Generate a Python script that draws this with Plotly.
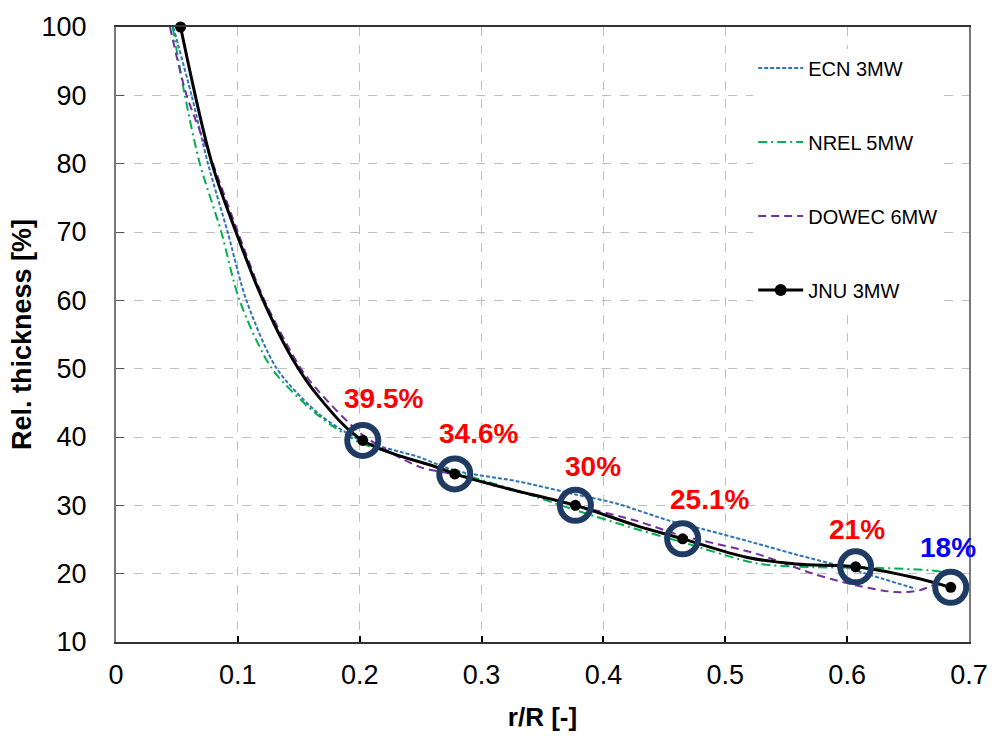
import plotly.graph_objects as go

# Relative thickness distributions along the blade span
ecn_r = [0.047, 0.062, 0.0755, 0.0916, 0.107, 0.132, 0.167, 0.200, 0.248, 0.278, 0.330,
         0.377, 0.410, 0.455, 0.482, 0.526, 0.560, 0.599, 0.630, 0.656]
ecn_t = [100, 90, 80, 70, 60, 50, 43.3, 39.6, 37.1, 35.1, 33.5,
         31.6, 30.3, 27.7, 26.5, 24.4, 22.7, 20.9, 19.2, 17.8]

nrel_r = [0.0465, 0.0565, 0.0688, 0.0864, 0.1014, 0.128, 0.167, 0.200, 0.221, 0.256,
          0.330, 0.377, 0.4276, 0.465, 0.526, 0.572, 0.613, 0.667, 0.689]
nrel_t = [100, 90, 80, 70, 60, 50, 43.0, 39.2, 37.9, 36.0,
          32.1, 29.3, 26.5, 24.6, 21.5, 20.95, 20.9, 20.5, 20.0]

dowec_r = [0.0443, 0.058, 0.0795, 0.100, 0.1218, 0.1517, 0.1667, 0.2025, 0.248,
           0.278, 0.330, 0.377, 0.4276, 0.465, 0.482, 0.526, 0.572, 0.607, 0.640, 0.659, 0.675]
dowec_t = [100, 90, 80, 70, 60, 50, 46.6, 40.3, 35.7,
           34.5, 32.0, 30.0, 27.7, 25.5, 24.8, 22.9, 20.0, 18.3, 17.3, 17.55, 18.7]

# JNU 3MW: continuous curve and its design stations
jnu_curve_r = [0.053, 0.0788, 0.0985, 0.1195, 0.1446, 0.1667, 0.2025, 0.2646,
               0.278, 0.319, 0.377, 0.4276, 0.465, 0.5173, 0.558, 0.607, 0.653, 0.685]
jnu_curve_t = [100, 80, 70, 60.5, 51.5, 45.8, 39.5, 35.5,
               34.6, 32.55, 30, 27.0, 25.1, 22.4, 21.4, 21, 19.5, 18]

jnu_r = [0.053, 0.2025, 0.278, 0.377, 0.465, 0.607, 0.685]
jnu_t = [100, 39.5, 34.6, 30, 25.1, 21, 18]

# Highlighted stations (all except the root) and their label colours
hl_r = jnu_r[1:]
hl_t = jnu_t[1:]
hl_colors = ["#FF0000", "#FF0000", "#FF0000", "#FF0000", "#FF0000", "#0000FF"]
hl_shift = [(21, 42), (24, 40), (18, 39), (27, 39), (1, 37), (-3, 40)]

FONT = "Liberation Sans, Arial, sans-serif"

fig = go.Figure()

fig.add_trace(go.Scatter(
    x=ecn_r, y=ecn_t, mode="lines", name="ECN 3MW", legendgroup="ecn",
    line=dict(color="#2E75B6", width=2, dash="4px,2px", shape="spline", smoothing=0.8),
))
fig.add_trace(go.Scatter(
    x=nrel_r, y=nrel_t, mode="lines", name="NREL 5MW", legendgroup="nrel",
    line=dict(color="#00B050", width=2, dash="9px,4px,2px,4px", shape="spline", smoothing=0.8),
))
fig.add_trace(go.Scatter(
    x=dowec_r, y=dowec_t, mode="lines", name="DOWEC 6MW", legendgroup="dowec",
    line=dict(color="#7030A0", width=2, dash="8px,5px", shape="spline", smoothing=0.8),
))
fig.add_trace(go.Scatter(
    x=jnu_curve_r, y=jnu_curve_t, mode="lines", name="JNU 3MW", legendgroup="jnu",
    showlegend=False,
    line=dict(color="black", width=3, shape="spline", smoothing=1.0),
))
# rings around the highlighted stations
fig.add_trace(go.Scatter(
    x=hl_r, y=hl_t, mode="markers", showlegend=False, hoverinfo="skip", cliponaxis=False,
    marker=dict(symbol="circle-open", size=31, color="#1F3B63", line=dict(color="#1F3B63", width=6)),
))
fig.add_trace(go.Scatter(
    x=jnu_r, y=jnu_t, mode="markers", name="JNU 3MW", legendgroup="jnu",
    showlegend=False, cliponaxis=False,
    marker=dict(color="black", size=11),
))
# legend entry for the JNU series (line with marker)
fig.add_trace(go.Scatter(
    x=[None], y=[None], mode="lines+markers", name="JNU 3MW", legendgroup="jnu",
    line=dict(color="black", width=3), marker=dict(color="black", size=12),
))

for r, t, c, (dx, dy) in zip(hl_r, hl_t, hl_colors, hl_shift):
    fig.add_annotation(
        x=r, y=t, text=f"{t:g}%", showarrow=False, xshift=dx, yshift=dy,
        font=dict(family=FONT, size=28, color=c, weight="bold"),
    )

fig.update_layout(
    width=1000, height=742,
    margin=dict(l=116, r=26, t=22, b=100),
    paper_bgcolor="white", plot_bgcolor="white",
    font=dict(family=FONT, color="black"),
    legend=dict(
        x=0.747, y=0.965, xanchor="left", yanchor="top",
        bgcolor="white", borderwidth=0,
        font=dict(family=FONT, size=20, color="black"),
        traceorder="grouped", tracegroupgap=45, itemwidth=45,
    ),
    xaxis=dict(
        range=[0, 0.7], dtick=0.1, tick0=0,
        showline=True, linecolor="#333333", linewidth=2, mirror=True,
        ticks="inside", ticklen=6, tickcolor="black", tickwidth=2,
        showgrid=True, gridcolor="#C0C0C0", griddash="dash", gridwidth=1,
        zeroline=False,
        tickfont=dict(family=FONT, size=27, color="black"),
        ticklabelstandoff=8,
        title=dict(text="<b>r/R [-]</b>", font=dict(family=FONT, size=26, color="black"), standoff=18),
    ),
    yaxis=dict(
        range=[10, 100], dtick=10, tick0=10,
        showline=True, linecolor="#777777", linewidth=2, mirror=True,
        ticks="inside", ticklen=8, tickcolor="#555555", tickwidth=1,
        showgrid=True, gridcolor="#C0C0C0", griddash="dash", gridwidth=1,
        zeroline=False,
        tickfont=dict(family=FONT, size=27, color="black"),
        ticklabelstandoff=22,
        title=dict(text="<b>Rel. thickness [%]</b>", font=dict(family=FONT, size=27, color="black"), standoff=2),
    ),
)

fig.write_html("out.html")
